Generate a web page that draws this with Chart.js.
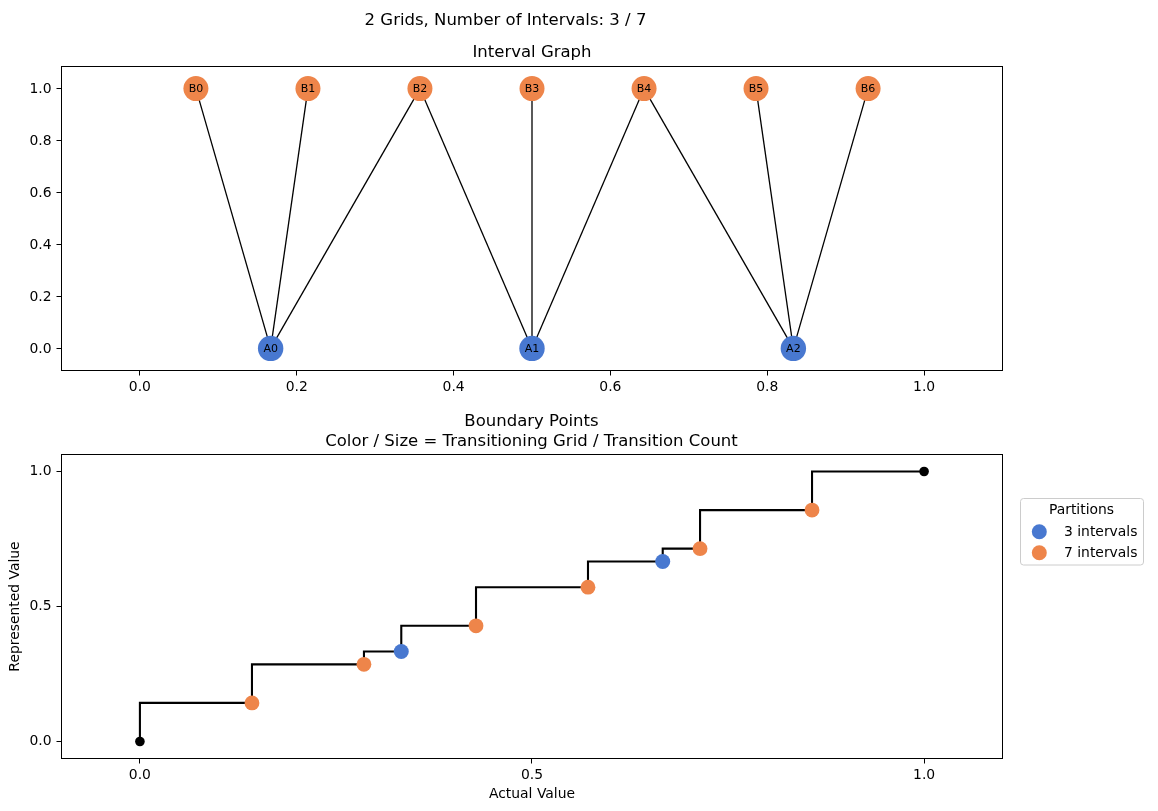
<!DOCTYPE html>
<html><head><meta charset="utf-8">
<script src="https://cdn.jsdelivr.net/npm/chart.js@4"></script>
<style>
html,body{margin:0;padding:0;background:#fff;}
#wrap{position:relative;width:1158px;height:811px;overflow:hidden;}
canvas{position:absolute;left:0;}
#c1{top:0;} #c2{top:400px;}
</style></head><body>
<div id="wrap">
<canvas id="c1" width="1158" height="400"></canvas>
<canvas id="c2" width="1158" height="411"></canvas>
</div>
<script>
// ---------- data ----------
const FIG_TITLE = '2 Grids, Number of Intervals: 3 / 7';
const TOP_TITLE = 'Interval Graph';
const BOTTOM_TITLE = ['Boundary Points', 'Color / Size = Transitioning Grid / Transition Count'];

const A_LABELS = ['A0', 'A1', 'A2'];
const A_X = [0.1667, 0.5, 0.8333];
const A_Y = [0, 0, 0];
const B_LABELS = ['B0', 'B1', 'B2', 'B3', 'B4', 'B5', 'B6'];
const B_X = [0.0714, 0.2143, 0.3571, 0.5, 0.6429, 0.7857, 0.9286];
const B_Y = [1, 1, 1, 1, 1, 1, 1];
const EDGES = [['A0','B0'],['A0','B1'],['A0','B2'],['A1','B2'],['A1','B3'],['A1','B4'],['A2','B4'],['A2','B5'],['A2','B6']];
const TOP_X_TICKS = [0.0, 0.2, 0.4, 0.6, 0.8, 1.0];
const TOP_Y_TICKS = [0.0, 0.2, 0.4, 0.6, 0.8, 1.0];

const STEP_X = [0, 0.1429, 0.2857, 0.3333, 0.4286, 0.5714, 0.6667, 0.7143, 0.8571, 1.0];
const STEP_Y = [0, 0.1429, 0.2857, 0.3333, 0.4286, 0.5714, 0.6667, 0.7143, 0.8571, 1.0];
const END_X = [0, 1.0];
const END_Y = [0, 1.0];
const P3_X = [0.3333, 0.6667];
const P3_Y = [0.3333, 0.6667];
const P7_X = [0.1429, 0.2857, 0.4286, 0.5714, 0.7143, 0.8571];
const P7_Y = [0.1429, 0.2857, 0.4286, 0.5714, 0.7143, 0.8571];
const BOTTOM_X_TICKS = [0.0, 0.5, 1.0];
const BOTTOM_Y_TICKS = [0.0, 0.5, 1.0];
const X_LABEL = 'Actual Value';
const Y_LABEL = 'Represented Value';
const LEGEND_TITLE = 'Partitions';
const LEGEND_LABELS = ['3 intervals', '7 intervals'];

const BLUE = '#4878d0';
const ORANGE = '#ee854a';
const FONT = '"DejaVu Sans", sans-serif';

Chart.defaults.font.family = FONT;
Chart.defaults.color = '#000';
Chart.defaults.animation = false;

function pts(xs, ys) { return xs.map((x, i) => ({x: x, y: ys[i]})); }

function axis(min, max, ticks, fit, pad, extra) {
  return Object.assign({
    type: 'linear', min: min, max: max,
    afterBuildTicks: s => { s.ticks = ticks.map(v => ({value: v})); },
    afterFit: fit,
    ticks: { callback: v => Number(v).toFixed(1), font: {size: 13.9}, color: '#000', padding: pad, maxRotation: 0, autoSkip: false },
    grid: { display: true, drawOnChartArea: false, drawTicks: true, tickLength: 5, tickColor: '#000', tickWidth: 1 },
    border: { display: false }
  }, extra || {});
}

const framePlugin = {
  id: 'frame',
  afterDraw(chart, args, opts) {
    const ctx = chart.ctx, a = chart.chartArea;
    ctx.save();
    ctx.strokeStyle = '#000'; ctx.lineWidth = 1;
    ctx.strokeRect(a.left, a.top, a.right - a.left, a.bottom - a.top);
    ctx.fillStyle = '#000';
    ctx.textAlign = 'center'; ctx.textBaseline = 'alphabetic';
    (opts.texts || []).forEach(t => {
      ctx.font = t.size + 'px ' + FONT;
      ctx.fillText(t.text, t.x, t.y);
    });
    ctx.restore();
  }
};

const nodeLabelPlugin = {
  id: 'nodeLabels',
  afterDatasetsDraw(chart) {
    const ctx = chart.ctx;
    ctx.save();
    ctx.fillStyle = '#000';
    ctx.font = '11px ' + FONT;
    ctx.textAlign = 'center'; ctx.textBaseline = 'middle';
    chart.data.datasets.forEach((ds, di) => {
      if (!ds.nodeLabels) return;
      const meta = chart.getDatasetMeta(di);
      meta.data.forEach((el, i) => ctx.fillText(ds.nodeLabels[i], el.x, el.y + 0.5));
    });
    ctx.restore();
  }
};

const legendPlugin = {
  id: 'boxLegend',
  afterDraw(chart, args, opts) {
    const ctx = chart.ctx;
    ctx.save();
    const x0 = 1020.5, y0 = 98.5, w = 123, h = 66.5, r = 3;
    ctx.beginPath();
    ctx.roundRect(x0, y0, w, h, r);
    ctx.fillStyle = 'rgba(255,255,255,0.8)';
    ctx.fill();
    ctx.strokeStyle = '#cccccc'; ctx.lineWidth = 1;
    ctx.stroke();
    ctx.fillStyle = '#000';
    ctx.font = '13.9px ' + FONT;
    ctx.textAlign = 'center'; ctx.textBaseline = 'alphabetic';
    ctx.fillText(LEGEND_TITLE, 1081.5, 114.3);
    ctx.textAlign = 'left';
    const colors = [BLUE, ORANGE];
    LEGEND_LABELS.forEach((lab, i) => {
      const cy = 131.7 + i * 21;
      ctx.beginPath();
      ctx.arc(1039.3, cy, 7.5, 0, Math.PI * 2);
      ctx.fillStyle = colors[i];
      ctx.fill();
      ctx.fillStyle = '#000';
      ctx.fillText(lab, 1064, 136.2 + i * 21);
    });
    ctx.restore();
  }
};

// ---------- top chart ----------
const pos = {};
A_LABELS.forEach((l, i) => pos[l] = {x: A_X[i], y: A_Y[i]});
B_LABELS.forEach((l, i) => pos[l] = {x: B_X[i], y: B_Y[i]});

new Chart(document.getElementById('c1'), {
  type: 'scatter',
  data: {
    datasets: [
      { label: 'B', data: pts(B_X, B_Y), nodeLabels: B_LABELS, pointRadius: 12.5, pointHoverRadius: 12.5, backgroundColor: ORANGE, borderWidth: 0, order: 0 },
      { label: 'A', data: pts(A_X, A_Y), nodeLabels: A_LABELS, pointRadius: 12.7, pointHoverRadius: 12.7, backgroundColor: BLUE, borderWidth: 0, order: 0 }
    ].concat(EDGES.map(e => ({
      label: e.join('-'), data: [pos[e[0]], pos[e[1]]], showLine: true,
      borderColor: '#000', borderWidth: 1.3, pointRadius: 0, pointHoverRadius: 0, order: 1
    })))
  },
  options: {
    responsive: false, events: [],
    layout: { padding: { top: 66.5, right: 155.5, bottom: 0, left: 0 } },
    scales: {
      x: axis(-0.1, 1.1, TOP_X_TICKS, s => { s.height = 29.5; }, 4),
      y: axis(-0.085, 1.085, TOP_Y_TICKS, s => { s.width = 61.5; }, 5, { ticks: { callback: v => Number(v).toFixed(1), font: {size: 13.9}, color: '#000', padding: 5, maxRotation: 0, autoSkip: false, labelOffset: 0.5 } })
    },
    plugins: {
      legend: { display: false }, tooltip: { enabled: false },
      frame: { texts: [
        { text: FIG_TITLE, x: 505.5, y: 25, size: 16.5 },
        { text: TOP_TITLE, x: 532, y: 56.7, size: 16.5 }
      ] }
    }
  },
  plugins: [framePlugin, nodeLabelPlugin]
});

// ---------- bottom chart ----------
new Chart(document.getElementById('c2'), {
  type: 'scatter',
  data: {
    datasets: [
      { label: 'ends', data: pts(END_X, END_Y), pointRadius: 4.8, pointHoverRadius: 4.8, backgroundColor: '#000', borderWidth: 0, order: 0 },
      { label: LEGEND_LABELS[0], data: pts(P3_X, P3_Y), pointRadius: 7.5, pointHoverRadius: 7.5, backgroundColor: BLUE, borderWidth: 0, order: 0 },
      { label: LEGEND_LABELS[1], data: pts(P7_X, P7_Y), pointRadius: 7.4, pointHoverRadius: 7.4, backgroundColor: ORANGE, borderWidth: 0, order: 0 },
      { label: 'step', data: pts(STEP_X, STEP_Y), showLine: true, stepped: 'after', borderColor: '#000', borderWidth: 2.1, pointRadius: 0, pointHoverRadius: 0, order: 1 }
    ]
  },
  options: {
    responsive: false, events: [],
    layout: { padding: { top: 54.5, right: 155.5, bottom: 0, left: 0 } },
    scales: {
      x: axis(-0.1, 1.1, BOTTOM_X_TICKS, s => { s.height = 52.5; }, 4,
        { title: { display: true, text: X_LABEL, font: {size: 13.9}, color: '#000', padding: {top: 4, bottom: 8.2} } }),
      y: axis(-0.063, 1.063, BOTTOM_Y_TICKS, s => { s.width = 61.5; }, 5,
        { title: { display: true, text: Y_LABEL, font: {size: 13.9}, color: '#000', padding: {top: 6.9, bottom: 4} } })
    },
    plugins: {
      legend: { display: false }, tooltip: { enabled: false },
      frame: { texts: [
        { text: BOTTOM_TITLE[0], x: 531.5, y: 25.7, size: 16.5 },
        { text: BOTTOM_TITLE[1], x: 531.5, y: 45.7, size: 16.5 }
      ] }
    }
  },
  plugins: [framePlugin, legendPlugin]
});
</script>
</body></html>
